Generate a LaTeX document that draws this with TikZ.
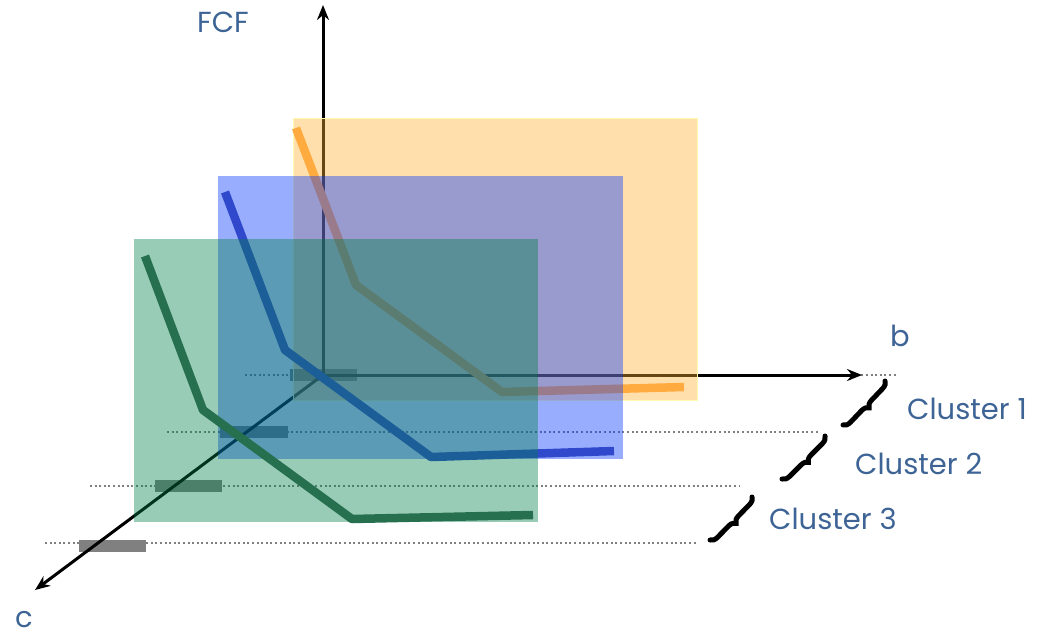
\documentclass[tikz,border=0pt]{standalone}
\usepackage{fontspec}
\setmainfont{Poppins}
\usetikzlibrary{arrows.meta,decorations.pathreplacing}
\definecolor{labelblue}{RGB}{62,100,150}
\definecolor{guide}{RGB}{128,128,128}
\definecolor{planeorange}{RGB}{255,176,48}
\definecolor{planeblue}{RGB}{0,51,255}
\definecolor{planegreen}{RGB}{0,128,74}
\definecolor{curveorange}{RGB}{255,171,64}
\definecolor{curveblue}{RGB}{48,72,204}
\definecolor{curvegreen}{RGB}{39,112,79}
\tikzset{
  x=1pt, y=-1pt,
  guideline/.style={guide, line width=2pt, dash pattern=on 2pt off 2.6pt},
  valuebar/.style={fill=guide, draw=none},
  axisline/.style={line width=3pt, -{Stealth[length=15pt,width=12pt]}},
  plane/.style={fill=#1, fill opacity=0.4, draw=none},
  curve/.style={draw=#1, line width=8.5pt, line join=bevel},
  clusterbrace/.style={decorate, decoration={brace, amplitude=7pt}, line width=5pt, line cap=round},
  lbl/.style={text=labelblue, font=\fontsize{29}{33}\selectfont, inner sep=0pt}
}
\begin{document}
\begin{tikzpicture}
\useasboundingbox (0,0) rectangle (1038,637);

% dotted level guides
\draw[guideline] (245,375) -- (897,375);
\draw[guideline] (167,432) -- (818,432);
\draw[guideline] (90,486) -- (740,486);
\draw[guideline] (45,543) -- (697,543);

% value bars on the c axis
\fill[valuebar] (290,369) rectangle (357,381);
\fill[valuebar] (220,426) rectangle (288,438);
\fill[valuebar] (155,480) rectangle (222,492);
\fill[valuebar] (79,540) rectangle (146,552);

% axes
\coordinate (O) at (323,375);
\coordinate (ytip) at (323,5);
\coordinate (btip) at (862,375);
\coordinate (ctip) at (35,590);
\draw[axisline] (O) -- (ytip);
\draw[axisline] (O) -- (btip);
\draw[axisline] (O) -- (ctip);

% cluster 1 plane and curve
\fill[plane=planeorange] (293,118) rectangle (697,400);
\draw[draw=yellow!30, line width=1pt] (293,118) rectangle (697,400);
\draw[curve=curveorange] (296,128) -- (356,285) -- (502,392) -- (684,387);

% cluster 2 plane and curve
\fill[plane=planeblue] (218,176) rectangle (623,459);
\draw[curve=curveblue] (225,192) -- (285,350) -- (431,457) -- (614,451);

% cluster 3 plane and curve
\fill[plane=planegreen] (134,239) rectangle (538,522);
\draw[curve=curvegreen] (145,256) -- (203,410) -- (352,519) -- (533,515);

% braces
\coordinate (b1a) at (885,381);
\coordinate (b1b) at (843,425);
\coordinate (b2a) at (825,436);
\coordinate (b2b) at (782,479);
\coordinate (b3a) at (752,497);
\coordinate (b3b) at (710,540);
\draw[clusterbrace] (b1a) -- (b1b);
\draw[clusterbrace] (b2a) -- (b2b);
\draw[clusterbrace] (b3a) -- (b3b);

% labels
\node[lbl] (fcf) at (223,22) {FCF};
\node[lbl] (blabel) at (900,336) {b};
\node[lbl] (clabel) at (24,620) {c};
\node[lbl, anchor=west] (c1) at (907,409) {Cluster 1};
\node[lbl, anchor=west] (c2) at (855,464) {Cluster 2};
\node[lbl, anchor=west] (c3) at (769,519) {Cluster 3};
\end{tikzpicture}
\end{document}
